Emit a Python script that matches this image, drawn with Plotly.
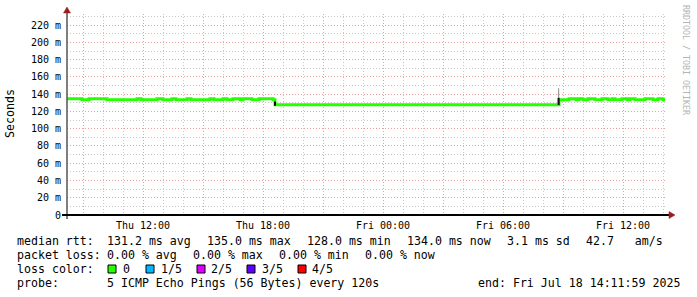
import plotly.graph_objects as go

FONT = "DejaVu Sans Mono"
W, H = 697, 297
L, R, T, B = 67, 30, 14, 82
PW = W - L - R
PH = H - T - B


def px(x):
    return (x - L) / PW


def py(y):
    return (H - B - y) / PH


# ---- data (median rtt in milliseconds, step change points) ----
rtt_times = [
    "2025-07-17 08:12", "2025-07-17 08:57", "2025-07-17 09:18", "2025-07-17 10:12",
    "2025-07-17 11:42", "2025-07-17 11:54", "2025-07-17 12:42", "2025-07-17 13:00",
    "2025-07-17 13:27", "2025-07-17 13:39", "2025-07-17 14:12", "2025-07-17 14:24",
    "2025-07-17 15:21", "2025-07-17 15:33", "2025-07-17 16:00", "2025-07-17 16:12",
    "2025-07-17 16:30", "2025-07-17 16:51", "2025-07-17 17:00", "2025-07-17 17:27",
    "2025-07-17 17:48", "2025-07-17 18:30", "2025-07-17 18:36", "2025-07-18 08:48",
    "2025-07-18 09:18", "2025-07-18 09:39", "2025-07-18 09:48", "2025-07-18 10:00",
    "2025-07-18 10:15", "2025-07-18 10:36", "2025-07-18 10:57", "2025-07-18 11:15",
    "2025-07-18 11:27", "2025-07-18 11:36", "2025-07-18 11:57", "2025-07-18 12:12",
    "2025-07-18 12:21", "2025-07-18 12:36", "2025-07-18 13:06", "2025-07-18 13:30",
    "2025-07-18 13:45", "2025-07-18 14:00", "2025-07-18 14:06",
]
rtt_ms = [
    134.7, 133.5, 134.7, 133.5,
    134.7, 133.5, 134.7, 133.5,
    134.7, 133.5, 134.7, 133.5,
    134.7, 133.5, 134.7, 133.5,
    134.7, 133.5, 134.7, 133.5,
    134.7, 133.5, 127.8, 133.5,
    134.7, 133.5, 134.7, 133.5,
    134.7, 133.5, 134.7, 133.5,
    134.7, 133.5, 134.7, 133.5,
    134.7, 133.5, 134.7, 133.5,
    134.7, 133.5, 133.5,
]

# smoke (rtt spread) at the two level changes
smoke_dark_times = ["2025-07-17 18:36", "2025-07-18 08:47"]
smoke_dark_lo = [126.5, 127.5]
smoke_dark_hi = [131.5, 136.0]
smoke_light_times = ["2025-07-18 08:47"]
smoke_light_lo = [136.0]
smoke_light_hi = [147.0]

x_tick_vals = [
    "2025-07-17 09:00", "2025-07-17 12:00", "2025-07-17 15:00", "2025-07-17 18:00",
    "2025-07-17 21:00", "2025-07-18 00:00", "2025-07-18 03:00", "2025-07-18 06:00",
    "2025-07-18 09:00", "2025-07-18 12:00",
]
x_tick_text = ["", "Thu 12:00", "", "Thu 18:00", "", "Fri 00:00", "", "Fri 06:00", "", "Fri 12:00"]
y_tick_vals = [0, 20, 40, 60, 80, 100, 120, 140, 160, 180, 200, 220]
y_tick_text = ["0", "20 m", "40 m", "60 m", "80 m", "100 m", "120 m", "140 m",
               "160 m", "180 m", "200 m", "220 m"]

loss_labels = ["0", "1/5", "2/5", "3/5", "4/5"]
loss_colors = ["#26ff00", "#00b8ff", "#dd00ff", "#5e00ff", "#ff0000"]

legend_line1 = ["median rtt:", "131.2 ms avg", "135.0 ms max", "128.0 ms min",
                "134.0 ms now", "3.1 ms sd", "42.7   am/s"]
legend_line2 = ["packet loss:", "0.00 % avg", "0.00 % max", "0.00 % min", "0.00 % now"]
legend_line4 = ["probe:", "5 ICMP Echo Pings (56 Bytes) every 120s", "end: Fri Jul 18 14:11:59 2025"]

# ---- figure ----
fig = go.Figure()


def vsegs(times, lo, hi):
    xs, ys = [], []
    for t, a, b in zip(times, lo, hi):
        xs += [t, t, None]
        ys += [a, b, None]
    return xs, ys


fig.add_trace(go.Scatter(x=rtt_times, y=rtt_ms, mode="lines",
                         line=dict(color="#26ff00", width=3, shape="hv"),
                         hoverinfo="skip", showlegend=False))
sx, sy = vsegs(smoke_light_times, smoke_light_lo, smoke_light_hi)
fig.add_trace(go.Scatter(x=sx, y=sy, mode="lines", line=dict(color="#8a8a8a", width=1),
                         hoverinfo="skip", showlegend=False))
sx, sy = vsegs(smoke_dark_times, smoke_dark_lo, smoke_dark_hi)
fig.add_trace(go.Scatter(x=sx, y=sy, mode="lines", line=dict(color="#111111", width=2),
                         hoverinfo="skip", showlegend=False))

MAJ = "#e8a0a0"
MIN = "#c8c8c8"
DASH = "1px,2px"

fig.update_layout(
    width=W, height=H,
    margin=dict(l=L, r=R, t=T, b=B, pad=0),
    paper_bgcolor="white", plot_bgcolor="white",
    showlegend=False,
    font=dict(family=FONT, size=10, color="black"),
    xaxis=dict(
        type="date", range=["2025-07-17 08:12", "2025-07-18 14:12"],
        tickmode="array", tickvals=x_tick_vals, ticktext=x_tick_text,
        showgrid=True, gridcolor=MAJ, griddash=DASH, gridwidth=1,
        minor=dict(dtick=3600000, tick0="2025-07-17 00:00", showgrid=True,
                   gridcolor=MIN, griddash=DASH, gridwidth=1),
        showline=False, zeroline=False, ticks="", ticklabelstandoff=3,
        tickfont=dict(family=FONT, size=10, color="black"),
        fixedrange=True,
    ),
    yaxis=dict(
        range=[0, 233],
        tickmode="array", tickvals=y_tick_vals, ticktext=y_tick_text,
        showgrid=True, gridcolor=MAJ, griddash=DASH, gridwidth=1,
        minor=dict(dtick=10, tick0=0, showgrid=True,
                   gridcolor=MIN, griddash=DASH, gridwidth=1),
        showline=False, zeroline=False, ticks="", ticklabelstandoff=5,
        tickfont=dict(family=FONT, size=10, color="black"),
        fixedrange=True,
    ),
)

shapes = []
# axes
shapes.append(dict(type="line", xref="paper", yref="paper",
                   x0=px(67), x1=px(67), y0=py(219), y1=py(10),
                   line=dict(color="#555555", width=1.5)))
shapes.append(dict(type="line", xref="paper", yref="paper",
                   x0=px(62), x1=px(671), y0=py(215), y1=py(215),
                   line=dict(color="black", width=2)))
ARROW = "#9c1c1c"
shapes.append(dict(type="path", xref="paper", yref="paper",
                   path=f"M {px(67)},{py(7)} L {px(63.5)},{py(13)} L {px(70.5)},{py(13)} Z",
                   fillcolor=ARROW, line=dict(color=ARROW, width=0.5)))
shapes.append(dict(type="path", xref="paper", yref="paper",
                   path=f"M {px(675)},{py(215)} L {px(669)},{py(211.5)} L {px(669)},{py(218.5)} Z",
                   fillcolor=ARROW, line=dict(color=ARROW, width=0.5)))

annotations = []


def txt(text, x, y, size=11.6, color="black", anchor="left", angle=0):
    annotations.append(dict(text=text.replace(" ", "\u00a0"), xref="paper", yref="paper",
                            x=px(x), y=py(y), xanchor=anchor, yanchor="middle",
                            showarrow=False, borderpad=0, textangle=angle,
                            font=dict(family=FONT, size=size, color=color)))


Y1, Y2, Y3, Y4 = 241, 255, 269, 283
for t, x in zip(legend_line1, [16, 106, 206, 306, 406, 506, 585]):
    txt(t, x, Y1)
for t, x in zip(legend_line2, [16, 106, 192, 278, 364]):
    txt(t, x, Y2)
txt("loss color:", 16, Y3)
for lab, col, bx, tx in zip(loss_labels, loss_colors,
                            [108, 146, 197, 247, 298], [122, 160, 210, 261, 311]):
    shapes.append(dict(type="rect", xref="paper", yref="paper",
                       x0=px(bx), x1=px(bx + 8), y0=py(Y3 + 4), y1=py(Y3 - 4),
                       fillcolor=col, line=dict(color="black", width=1)))
    txt(lab, tx, Y3)
for t, x in zip(legend_line4, [16, 106, 477]):
    txt(t, x, Y4)

# y-axis title and watermark
txt("Seconds", 10, 114, size=11.6, anchor="center", angle=-90)
txt("RRDTOOL / TOBI OETIKER", 686, 60, size=8.3, color="#b4b4b4", anchor="center", angle=90)

fig.update_layout(shapes=shapes, annotations=annotations)
fig.write_html("out.html")
